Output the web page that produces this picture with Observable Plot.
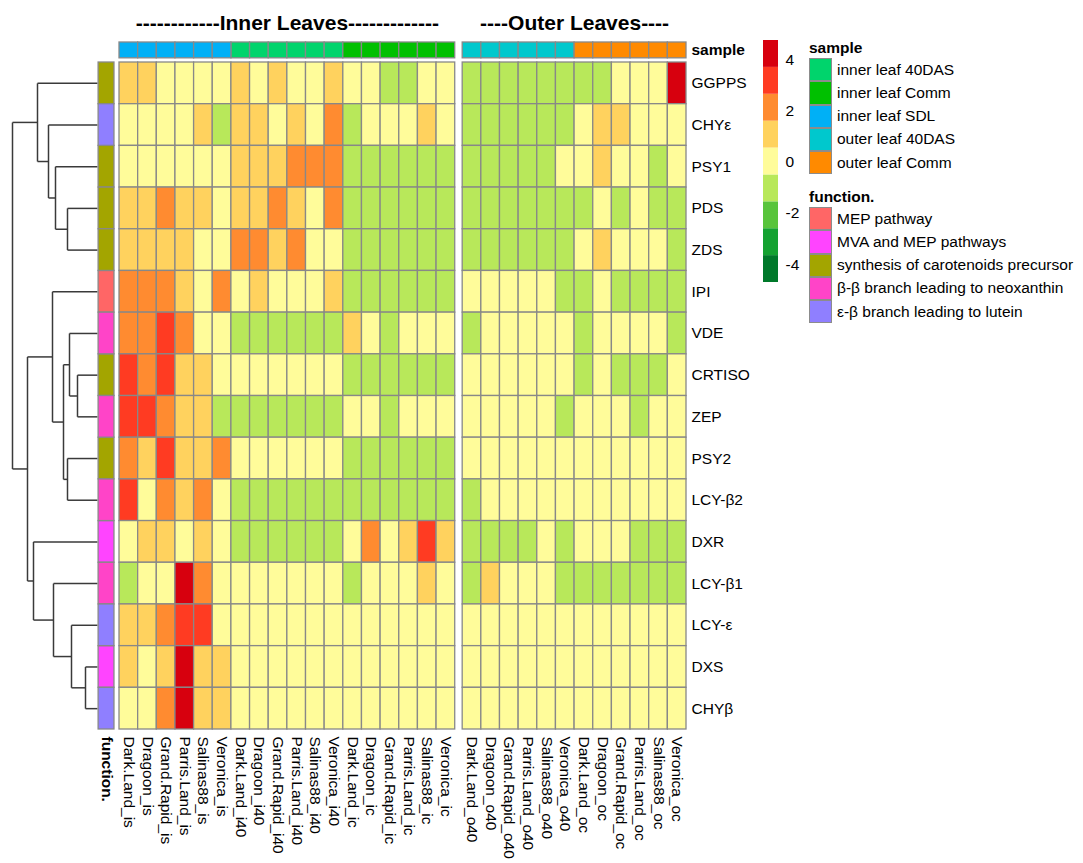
<!DOCTYPE html>
<html>
<head>
<meta charset="utf-8">
<script src="https://cdn.jsdelivr.net/npm/d3@7"></script>
<script src="https://cdn.jsdelivr.net/npm/@observablehq/plot@0.6"></script>
<style>
  html, body { margin: 0; padding: 0; background: white; }
  #wrap { position: relative; width: 1083px; height: 863px; overflow: hidden; font-family: "Liberation Sans", Arial, sans-serif; }
  #wrap svg { position: absolute; left: 0; top: 0; }
  .lg-title { position: absolute; font-weight: bold; font-size: 15.5px; }
  .lg-box { position: absolute; width: 23px; height: 22px; border: 1px solid #8c8c8c; box-sizing: border-box; }
  .lg-label { position: absolute; font-size: 15.5px; line-height: 18px; white-space: nowrap; }
</style>
</head>
<body>
<div id="wrap"></div>
<script>
// ---------------- data ----------------
const genes = ["GGPPS","CHYε","PSY1","PDS","ZDS","IPI","VDE","CRTISO","ZEP","PSY2","LCY-β2","DXR","LCY-β1","LCY-ε","DXS","CHYβ"];

const samples = [
  "Dark.Land_is","Dragoon_is","Grand.Rapid_is","Parris.Land_is","Salinas88_is","Veronica_is",
  "Dark.Land_i40","Dragoon_i40","Grand.Rapid_i40","Parris.Land_i40","Salinas88_i40","Veronica_i40",
  "Dark.Land_ic","Dragoon_ic","Grand.Rapid_ic","Parris.Land_ic","Salinas88_ic","Veronica_ic",
  "Dark.Land_o40","Dragoon_o40","Grand.Rapid_o40","Parris.Land_o40","Salinas88_o40","Veronica_o40",
  "Dark.Land_oc","Dragoon_oc","Grand.Rapid_oc","Parris.Land_oc","Salinas88_oc","Veronica_oc"
];

const sampleType = [
  "inner leaf SDL","inner leaf SDL","inner leaf SDL","inner leaf SDL","inner leaf SDL","inner leaf SDL",
  "inner leaf 40DAS","inner leaf 40DAS","inner leaf 40DAS","inner leaf 40DAS","inner leaf 40DAS","inner leaf 40DAS",
  "inner leaf Comm","inner leaf Comm","inner leaf Comm","inner leaf Comm","inner leaf Comm","inner leaf Comm",
  "outer leaf 40DAS","outer leaf 40DAS","outer leaf 40DAS","outer leaf 40DAS","outer leaf 40DAS","outer leaf 40DAS",
  "outer leaf Comm","outer leaf Comm","outer leaf Comm","outer leaf Comm","outer leaf Comm","outer leaf Comm"
];

const geneFunction = [
  "synthesis of carotenoids precursor","ε-β branch leading to lutein","synthesis of carotenoids precursor",
  "synthesis of carotenoids precursor","synthesis of carotenoids precursor","MEP pathway",
  "β-β branch leading to neoxanthin","synthesis of carotenoids precursor","β-β branch leading to neoxanthin",
  "synthesis of carotenoids precursor","β-β branch leading to neoxanthin","MVA and MEP pathways",
  "β-β branch leading to neoxanthin","ε-β branch leading to lutein","MVA and MEP pathways","ε-β branch leading to lutein"
];

// z-scores per gene (rows) x sample (columns)
const values = [
  [1,1,0,0,0,0, 1,0,1,0,0,1, 0,0,-1,-1,0,0, -1,-1,-1,-1,-1,-1, -1,-1,0,0,0,4],
  [0,0,0,0,1,-1, 1,1,0,1,0,2, -1,0,0,0,1,0, -1,-1,-1,-1,-1,-1, 0,1,1,0,0,0],
  [0,0,0,0,0,0, 1,1,1,2,2,2, -1,-1,-1,-1,-1,-1, -1,-1,-1,-1,-1,0, 0,1,0,0,-1,0],
  [1,1,2,1,1,0, 1,1,2,1,0,2, -1,-1,-1,-1,-1,-1, -1,-1,-1,-1,-1,-1, -1,0,-1,0,-1,-1],
  [1,1,1,1,0,0, 2,2,1,2,0,0, -1,-1,-1,-1,-1,-1, -1,-1,-1,-1,-1,-1, 0,1,0,0,0,-1],
  [2,2,2,1,0,2, 0,1,0,0,0,1, -1,-1,-1,-1,-1,-1, 0,0,0,0,0,-1, -1,0,-1,-1,-1,-1],
  [2,2,3,2,0,0, -1,-1,-1,-1,-1,-1, 1,0,-1,0,0,0, -1,0,0,0,0,0, -1,0,0,0,0,-1],
  [3,2,3,1,1,0, 0,0,0,0,0,0, -1,-1,-1,-1,-1,-1, 0,0,0,0,0,0, -1,0,-1,-1,-1,0],
  [3,3,2,1,1,-1, -1,-1,-1,-1,-1,-1, 0,0,-1,0,0,0, 0,0,0,0,0,-1, 0,0,0,-1,0,0],
  [2,1,3,1,1,2, 0,0,0,0,0,0, -1,-1,-1,-1,-1,-1, 0,0,0,0,0,0, 0,0,0,0,0,0],
  [3,0,2,1,2,0, -1,-1,-1,-1,-1,-1, -1,-1,-1,-1,-1,-1, -1,0,0,0,0,0, 0,0,0,0,0,0],
  [0,1,1,0,1,0, -1,-1,-1,-1,-1,-1, 0,2,0,1,3,1, -1,-1,-1,-1,0,-1, 0,0,0,-1,-1,-1],
  [-1,0,0,4,2,0, 0,0,0,0,0,0, -1,0,0,0,1,0, -1,1,0,0,0,-1, -1,-1,-1,-1,-1,-1],
  [1,1,2,3,3,0, 0,0,0,0,0,0, 0,0,0,0,0,0, 0,0,0,0,0,0, 0,0,0,0,0,0],
  [1,0,1,4,1,1, 0,0,0,0,0,0, 0,0,0,0,0,0, 0,0,0,0,0,0, 0,0,0,0,0,0],
  [0,0,2,4,1,1, 0,0,0,0,0,0, 0,0,0,0,0,0, 0,0,0,0,0,0, 0,0,0,0,0,0]
];

// row dendrogram (hclust-style merges: negative = leaf row number, positive = earlier merge)
const merges = [
  [-4, -5, 30], [-3, 1, 42], [-2, 2, 49], [-1, 3, 60],
  [-8, -9, 20], [-7, 5, 28], [-10, -11, 30], [6, 7, 34], [-6, 8, 45],
  [-15, -16, 12], [-14, 10, 26], [-13, 11, 44], [-12, 12, 64],
  [9, 13, 70], [4, 14, 85]
];

// colour scale
const colorBreaks = [-3.65, -2.6, -1.55, -0.5, 0.55, 1.6, 2.65, 3.7];
const colorRange = ["#00792A","#14A231","#58C43B","#B8E85A","#FFFC9A","#FFD25E","#FF8B30","#FF3B22","#D7000E"];
const legendTicks = [4, 2, 0, -2, -4];

const sampleLevels = ["inner leaf 40DAS","inner leaf Comm","inner leaf SDL","outer leaf 40DAS","outer leaf Comm"];
const sampleColors = ["#00D46C","#00C000","#00B0F6","#00C8CD","#FF8A00"];
const functionLevels = ["MEP pathway","MVA and MEP pathways","synthesis of carotenoids precursor","β-β branch leading to neoxanthin","ε-β branch leading to lutein"];
const functionColors = ["#FF6666","#FF44FF","#A3A500","#FF44C8","#8F7FFF"];

const groupTitles = ["------------Inner Leaves-------------", "----Outer Leaves----"];

// ---------------- layout ----------------
const W = 1083, H = 863;
const FONT = "Liberation Sans, Arial, Helvetica, sans-serif";
const GAP = 0.4;       // gap (in columns) between inner and outer blocks
const nInner = 18;
const xOf = j => j + (j >= nInner ? GAP : 0);
const nCols = samples.length, nRows = genes.length;
const xMax = nCols + GAP;
const grey = "#888888";

const cells = [];
genes.forEach((g, i) => samples.forEach((s, j) => cells.push({gene: g, row: i, col: j, value: values[i][j]})));
const cols = samples.map((s, j) => ({name: s, col: j, type: sampleType[j]}));
const rows = genes.map((g, i) => ({name: g, row: i, func: geneFunction[i]}));

const xScale = {domain: [0, xMax], range: [119, 686], axis: null};
const yScale = {domain: [0, nRows], range: [62, 729], axis: null};

const marks = [];
// heatmap cells
marks.push(Plot.rect(cells, {
  x1: d => xOf(d.col), x2: d => xOf(d.col) + 1,
  y1: d => d.row, y2: d => d.row + 1,
  fill: "value", stroke: grey, strokeWidth: 1.3
}));
// sample annotation bar
sampleLevels.forEach((lv, k) => {
  marks.push(Plot.rect(cols.filter(c => c.type === lv), {
    x1: d => xOf(d.col), x2: d => xOf(d.col) + 1, y1: -0.48, y2: -0.1,
    fill: sampleColors[k], stroke: grey, strokeWidth: 1.3
  }));
});
// function annotation bar
functionLevels.forEach((lv, k) => {
  marks.push(Plot.rect(rows.filter(r => r.func === lv), {
    x1: -1.12, x2: -0.27, y1: d => d.row, y2: d => d.row + 1,
    fill: functionColors[k], stroke: grey, strokeWidth: 1.3
  }));
});
// gene labels
marks.push(Plot.text(rows, {x: xMax, y: d => d.row + 0.5, text: "name", textAnchor: "start", dx: 5, fontSize: 15.5}));
marks.push(Plot.text(["sample"], {x: xMax, y: -0.29, text: d => d, textAnchor: "start", dx: 5, fontSize: 15.5, fontWeight: "bold"}));
// column labels
marks.push(Plot.text(cols, {x: d => xOf(d.col) + 0.5, y: nRows, dy: 7, text: "name", rotate: 90, textAnchor: "start", fontSize: 15.5}));
marks.push(Plot.text(["function."], {x: -0.695, y: nRows, dy: 7, text: d => d, rotate: 90, textAnchor: "start", fontSize: 15.5, fontWeight: "bold"}));
// group titles
marks.push(Plot.text([
  {t: groupTitles[0], x: nInner / 2},
  {t: groupTitles[1], x: xOf(nInner) + (nCols - nInner) / 2}
], {x: "x", y: -0.94, text: "t", fontSize: 21, fontWeight: "bold"}));

const main = Plot.plot({
  width: W, height: H,
  x: xScale, y: yScale,
  color: {type: "threshold", domain: colorBreaks, range: colorRange},
  style: {background: "transparent", fontFamily: FONT, fontSize: "15.5px", overflow: "visible"},
  marks
});

// ---------------- dendrogram ----------------
const nodes = []; // {h, y}
const nodeOf = k => k < 0 ? {h: 0, y: -k - 0.5} : nodes[k - 1];
const segs = [];
merges.forEach(([a, b, h]) => {
  const A = nodeOf(a), B = nodeOf(b);
  segs.push({x1: h, y1: A.y, x2: h, y2: B.y});
  segs.push({x1: A.h, y1: A.y, x2: h, y2: A.y});
  segs.push({x1: B.h, y1: B.y, x2: h, y2: B.y});
  nodes.push({h, y: (A.y + B.y) / 2});
});
const dendro = Plot.plot({
  width: W, height: H,
  x: {domain: [0, 85], range: [97, 12], axis: null},
  y: yScale,
  style: {background: "transparent"},
  marks: [Plot.link(segs, {x1: "x1", y1: "y1", x2: "x2", y2: "y2", stroke: "#3a3a3a", strokeWidth: 1.5})]
});

// ---------------- colour legend ----------------
const bins = colorRange.map((c, i) => {
  const lo = i === 0 ? -4.7 : colorBreaks[i - 1];
  const hi = i === colorRange.length - 1 ? 4.75 : colorBreaks[i];
  return {lo, hi, mid: (lo + hi) / 2};
});
const colorLegend = Plot.plot({
  width: W, height: H,
  marginLeft: 763, marginRight: 305,
  x: {domain: [0, 1], range: [763, 778], axis: null},
  y: {domain: [-4.7, 4.75], range: [282, 40], axis: null},
  color: {type: "threshold", domain: colorBreaks, range: colorRange},
  style: {background: "transparent", fontFamily: FONT, fontSize: "15.5px"},
  marks: [
    Plot.rect(bins, {x1: 0, x2: 1, y1: "lo", y2: "hi", fill: "mid"}),
    Plot.axisY({anchor: "right", ticks: legendTicks, tickFormat: d => String(d), tickSize: 0, tickPadding: 7, label: null, fontSize: 15.5})
  ]
});

const wrap = document.getElementById("wrap");
wrap.appendChild(dendro);
wrap.appendChild(main);
wrap.appendChild(colorLegend);

// ---------------- categorical legends ----------------
function addLegend(title, levels, colors, top) {
  const t = document.createElement("div");
  t.className = "lg-title"; t.textContent = title;
  t.style.left = "809px"; t.style.top = (top - 19) + "px";
  wrap.appendChild(t);
  levels.forEach((lv, i) => {
    const b = document.createElement("div");
    b.className = "lg-box";
    b.style.left = "809px"; b.style.top = (top + i * 23.3) + "px";
    b.style.height = "23.3px";
    b.style.background = colors[i];
    wrap.appendChild(b);
    const l = document.createElement("div");
    l.className = "lg-label"; l.textContent = lv;
    l.style.left = "837px"; l.style.top = (top + i * 23.3 + 2.5) + "px";
    wrap.appendChild(l);
  });
}
addLegend("sample", sampleLevels, sampleColors, 58);
addLegend("function.", functionLevels, functionColors, 207);
</script>
</body>
</html>
